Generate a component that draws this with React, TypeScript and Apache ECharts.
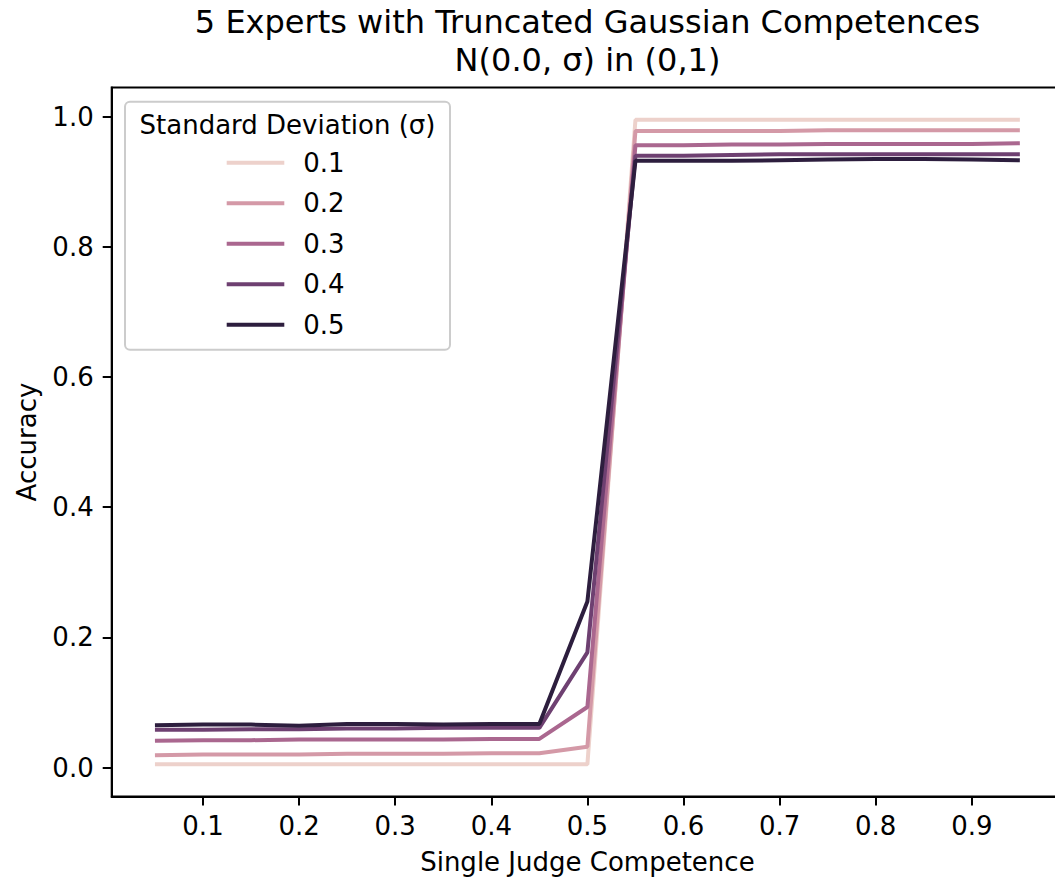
import React, { useEffect, useRef } from "react";
import * as echarts from "echarts";

// Single judge competence (x)
const competence = [0.05, 0.1, 0.15, 0.2, 0.25, 0.3, 0.35, 0.4, 0.45, 0.5, 0.55, 0.6, 0.65, 0.7, 0.75, 0.8, 0.85, 0.9, 0.95];

// Standard deviation levels (legend)
const sigmaLabels = ["0.1", "0.2", "0.3", "0.4", "0.5"];

// Accuracy per sigma
const accSigma01 = [0.005, 0.005, 0.005, 0.005, 0.005, 0.005, 0.005, 0.005, 0.005, 0.005, 0.995, 0.995, 0.995, 0.995, 0.995, 0.995, 0.995, 0.995, 0.995];
const accSigma02 = [0.019, 0.020, 0.020, 0.020, 0.021, 0.021, 0.021, 0.022, 0.022, 0.032, 0.978, 0.978, 0.978, 0.978, 0.979, 0.979, 0.979, 0.979, 0.979];
const accSigma03 = [0.041, 0.042, 0.042, 0.043, 0.043, 0.043, 0.043, 0.044, 0.044, 0.093, 0.956, 0.956, 0.957, 0.957, 0.958, 0.958, 0.958, 0.958, 0.959];
const accSigma04 = [0.058, 0.058, 0.059, 0.059, 0.060, 0.060, 0.061, 0.061, 0.061, 0.177, 0.940, 0.940, 0.941, 0.942, 0.942, 0.942, 0.942, 0.942, 0.942];
const accSigma05 = [0.065, 0.066, 0.066, 0.064, 0.067, 0.067, 0.066, 0.067, 0.067, 0.255, 0.932, 0.932, 0.932, 0.933, 0.934, 0.935, 0.935, 0.934, 0.933];

const accuracyBySigma = [accSigma01, accSigma02, accSigma03, accSigma04, accSigma05];
const sigmaColors = ["#edd1cb", "#d499a7", "#aa678f", "#6e4071", "#2d1e3e"];

// Tick labels
const xTicks = [0.1, 0.2, 0.3, 0.4, 0.5, 0.6, 0.7, 0.8, 0.9];
const yTicks = [0.0, 0.2, 0.4, 0.6, 0.8, 1.0];

const FONT = "DejaVu Sans";

export default function App() {
  const ref = useRef<HTMLDivElement>(null);

  useEffect(() => {
    if (!ref.current) return;
    const chart = echarts.init(ref.current, undefined, { renderer: "svg" });

    const series = sigmaLabels.map((name, si) => ({
      name,
      type: "line",
      data: competence.map((x, i) => [x, accuracyBySigma[si][i]]),
      symbol: "none",
      showSymbol: false,
      lineStyle: { width: 4, color: sigmaColors[si] },
      itemStyle: { color: sigmaColors[si] },
      emphasis: { disabled: true },
      z: 2 + si,
    }));

    chart.setOption({
      animation: false,
      backgroundColor: "#ffffff",
      title: {
        text: "5 Experts with Truncated Gaussian Competences\nN(0.0, σ) in (0,1)",
        left: 587.5,
        top: 3,
        padding: 0,
        textAlign: "center",
        textStyle: { fontSize: 32, fontWeight: "normal", color: "#000", fontFamily: FONT, lineHeight: 38 },
      },
      grid: {
        left: 111.7,
        top: 87.6,
        right: 6.9,
        bottom: 89.5,
        show: true,
        borderColor: "#000",
        borderWidth: 2,
        backgroundColor: "transparent",
      },
      xAxis: {
        type: "value",
        min: 0.005,
        max: 0.995,
        name: "Single Judge Competence",
        nameLocation: "middle",
        nameGap: 52,
        nameTextStyle: { fontSize: 26, color: "#000", fontFamily: FONT },
        axisLine: { show: true, onZero: false, lineStyle: { color: "#000", width: 2 } },
        axisTick: { show: true, customValues: xTicks, length: 9, lineStyle: { color: "#000", width: 2 } },
        axisLabel: {
          customValues: xTicks,
          formatter: (v: number) => v.toFixed(1),
          fontSize: 26,
          color: "#000",
          fontFamily: FONT,
          margin: 16,
        },
        splitLine: { show: false },
      },
      yAxis: {
        type: "value",
        min: -0.0445,
        max: 1.0445,
        name: "Accuracy",
        nameLocation: "middle",
        nameGap: 72,
        nameTextStyle: { fontSize: 26, color: "#000", fontFamily: FONT },
        axisLine: { show: true, onZero: false, lineStyle: { color: "#000", width: 2 } },
        axisTick: { show: true, customValues: yTicks, length: 9, lineStyle: { color: "#000", width: 2 } },
        axisLabel: {
          customValues: yTicks,
          formatter: (v: number) => v.toFixed(1),
          fontSize: 26,
          color: "#000",
          fontFamily: FONT,
          margin: 18,
        },
        splitLine: { show: false },
      },
      legend: {
        data: sigmaLabels.map((name) => ({ name, icon: "rect" })),
        orient: "vertical",
        left: 226.7,
        top: 147.7,
        padding: 0,
        itemWidth: 57.6,
        itemHeight: 4,
        itemGap: 10.5,
        selectedMode: false,
        itemStyle: { borderWidth: 0 },
        textStyle: { fontSize: 26, color: "#000", fontFamily: FONT, lineHeight: 30, padding: [0, 0, 0, 14] },
        z: 10,
      },
      graphic: [
        {
          type: "rect",
          z: 5,
          shape: { x: 125, y: 101.7, width: 325, height: 248, r: 5 },
          style: { fill: "rgba(255,255,255,0.8)", stroke: "#cccccc", lineWidth: 2 },
        },
        {
          type: "text",
          z: 6,
          x: 287.5,
          y: 125,
          style: {
            text: "Standard Deviation (σ)",
            fontSize: 26,
            fontFamily: FONT,
            fill: "#000",
            textAlign: "center",
            textVerticalAlign: "middle",
          },
        },
      ],
      series,
    });

    return () => chart.dispose();
  }, []);

  return (
    <div style={{ position: "fixed", left: 0, top: 0, width: 1055, height: 886, overflow: "hidden", background: "#fff" }}>
      <div ref={ref} style={{ width: 1070, height: 886 }} />
    </div>
  );
}
